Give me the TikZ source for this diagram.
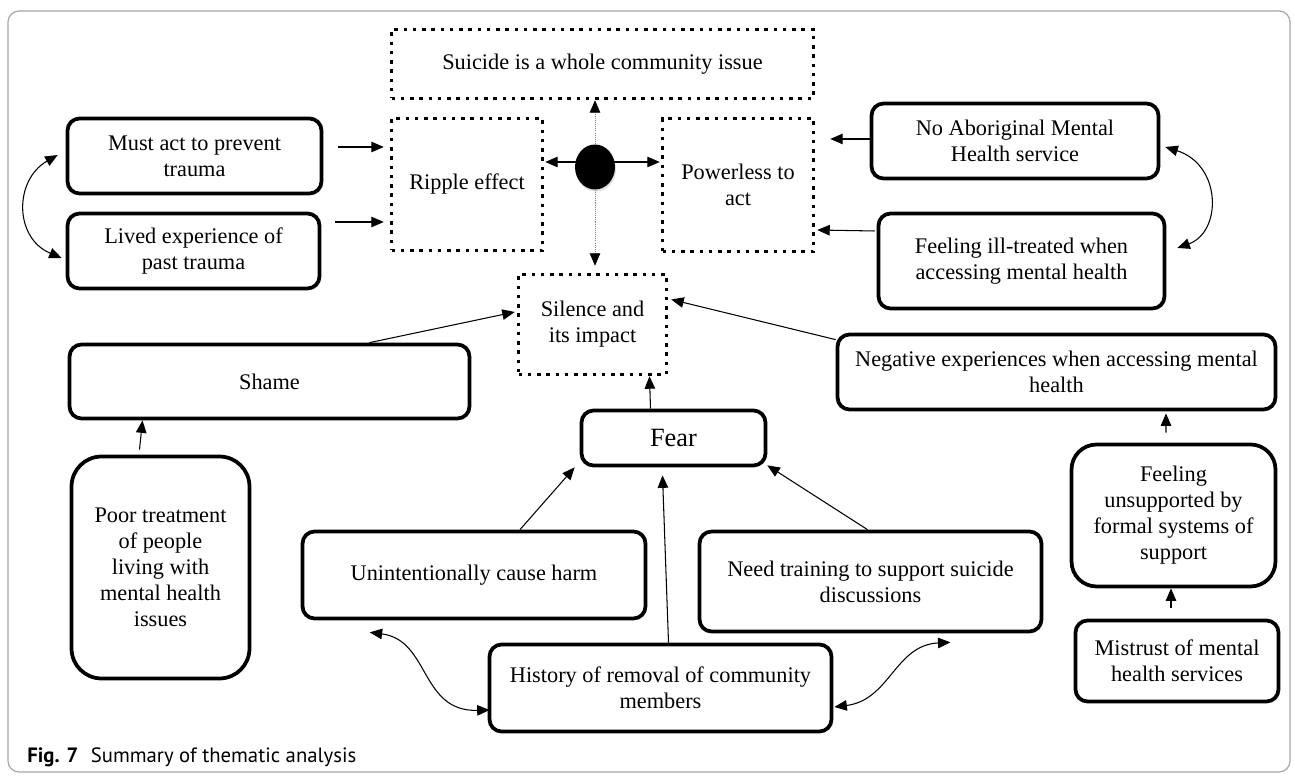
\documentclass[tikz,border=0pt]{standalone}
\usepackage{fontspec}
\setmainfont{Liberation Serif}
\newfontfamily\capfont{PT Sans}
\usetikzlibrary{arrows.meta,calc,shadows,shapes.geometric}
\begin{document}
\begin{tikzpicture}[x=0.02cm,y=-0.02cm,
  txt/.style={align=center,font=\fontsize{12.7}{14.8}\selectfont,inner sep=1pt},
  box/.style={txt,draw,line width=0.075cm,rounded corners=0.24cm},
  dbox/.style={txt,draw,line width=0.07cm,dash pattern=on 0.07cm off 0.115cm},
  arr/.style={line width=0.6pt,-{Triangle[length=0.25cm,width=0.21cm]}},
  dbl/.style={line width=0.6pt,{Triangle[length=0.25cm,width=0.21cm]}-{Triangle[length=0.25cm,width=0.21cm]}},
  dotl/.style={draw=gray,line width=0.5pt,dash pattern=on 0.6pt off 0.6pt,-{Triangle[length=0.25cm,width=0.21cm,color=black]}}
]
\useasboundingbox (0,0) rectangle (1295,776);
\draw[gray!70,line width=0.7pt,rounded corners=0.22cm] (8,11) rectangle (1290,772);

% dotted boxes
\node[dbox,minimum width=8.44cm,minimum height=1.38cm] (suicide) at (602.5,64) {Suicide is a whole community issue};
\node[dbox,minimum width=3.02cm,minimum height=2.64cm] (ripple) at (467,184.5) {Ripple effect};
\node[dbox,minimum width=3.02cm,minimum height=2.66cm] (powerless) at (738,185) {Powerless to\\act};
\node[dbox,minimum width=2.96cm,minimum height=2.0cm] (silence) at (592.5,324.5) {Silence and\\its impact};
\node[ellipse,fill=black,minimum width=0.8cm,minimum height=0.9cm,inner sep=0pt,
      drop shadow={shadow xshift=0.6pt,shadow yshift=-1.2pt,opacity=0.25}] (dot) at (595,167) {};

% solid boxes
\node[box,minimum width=5.08cm,minimum height=1.5cm] (mustact) at (194.5,156) {Must act to prevent\\trauma};
\node[box,minimum width=5.04cm,minimum height=1.5cm] (lived) at (193.5,251) {Lived experience of\\past trauma};
\node[box,minimum width=5.74cm,minimum height=1.5cm] (noabor) at (1015,141) {No Aboriginal Mental\\Health service};
\node[box,minimum width=5.72cm,minimum height=1.9cm] (illtreat) at (1021.5,261) {Feeling ill-treated when\\accessing mental health};
\node[box,minimum width=8.0cm,minimum height=1.48cm] (shame) at (269.5,381.5) {Shame};
\node[box,rounded corners=0.6cm,minimum width=3.56cm,minimum height=4.44cm] (poor) at (160.5,567.5) {Poor treatment\\of people\\living with\\mental health\\issues};
\node[box,font=\fontsize{15}{17}\selectfont,minimum width=3.68cm,minimum height=1.1cm] (fear) at (673.5,438) {Fear};
\node[box,minimum width=6.86cm,minimum height=1.74cm] (unint) at (474,575) {Unintentionally cause harm};
\node[box,minimum width=6.84cm,minimum height=1.74cm] (history) at (660.5,688) {History of removal of community\\members};
\node[box,minimum width=6.84cm,minimum height=2.0cm] (needtr) at (870.5,581.5) {Need training to support suicide\\discussions};
\node[box,minimum width=8.76cm,minimum height=1.5cm] (negative) at (1056.5,372) {Negative experiences when accessing mental\\health};
\node[box,rounded corners=0.5cm,minimum width=4.08cm,minimum height=2.84cm] (unsupp) at (1173.5,515.5) {Feeling\\unsupported by\\formal systems of\\support};
\node[box,minimum width=4.06cm,minimum height=1.62cm] (mistrust) at (1177,661) {Mistrust of mental\\health services};

% connectors, top area
\draw[arr] ($(mustact.east|-0,147)+(15,0)$) -- ($(ripple.west|-0,147)+(-6,0)$);
\draw[arr] ($(lived.east|-0,222)+(14,0)$) -- ($(ripple.west|-0,222)+(-6,0)$);
\draw[dbl] ($(mustact.west)+(-8,-1)$) .. controls (14,180) and (14,238) .. ($(lived.west)+(-4,7)$);
\draw[arr] ($(dot.west|-0,162)+(2,0)$) -- ($(ripple.east|-0,162)+(1,0)$);
\draw[arr] ($(dot.east|-0,162)+(-2,0)$) -- ($(powerless.west|-0,162)+(-1,0)$);
\draw[dotl] (dot.north) -- (dot.north|-suicide.south);
\draw[dotl] (dot.south) -- ($(dot.south|-silence.north)+(0,-7)$);
\draw[arr] ($(noabor.west|-0,139)$) -- ($(powerless.east|-0,139)+(15,0)$);
\draw[arr] ($(illtreat.west|-0,231)+(-2,0)$) -- ($(powerless.east|-0,230)+(2,0)$);
\draw[dbl] ($(noabor.east)+(5,6)$) .. controls (1222,165) and (1222,232) .. ($(illtreat.east)+(11,-13)$);

% connectors, lower area
\draw[arr] ($(shame.north)+(100,0)$) -- ($(silence.west|-0,312)+(-2,0)$);
\draw[arr] ($(poor.north)+(-21,-5)$) -- ($(shame.south)+(-127,0)$);
\draw[arr] ($(fear.north)+(-23,0)$) -- ($(silence.south)+(57,0)$);
\draw[arr] ($(unint.north)+(46,0)$) -- ($(fear.south west)+(-5,0)$);
\draw[arr] ($(history.north)+(8,0)$) -- ($(fear.south)+(-11,8)$);
\draw[arr] ($(needtr.north)+(-3,0)$) -- ($(fear.south east)+(0,-2)$);
\draw[dbl] ($(unint.south west)+(69,12)$) .. controls (430,640) and (420,712) .. ($(history.west)+(2,22)$);
\draw[dbl] ($(history.east)+(1,19)$) .. controls (890,700) and (895,645) .. ($(needtr.south)+(80,9)$);
\draw[arr] ($(negative.north west)+(0,7)$) -- ($(silence.east)+(3,-25)$);
\draw[arr] ($(unsupp.north)+(-7.5,-10)$) -- ($(negative.south)+(109.5,2)$);
\draw[arr] ($(mistrust.north)+(-6,-11)$) -- ($(unsupp.south)+(-2.5,0)$);

% caption
\node[anchor=base west,inner sep=0pt,font=\capfont\fontsize{11.8}{13}\selectfont] (caption) at (27,762) {\textbf{Fig. 7}\hspace{0.6em}Summary of thematic analysis};
\end{tikzpicture}
\end{document}
